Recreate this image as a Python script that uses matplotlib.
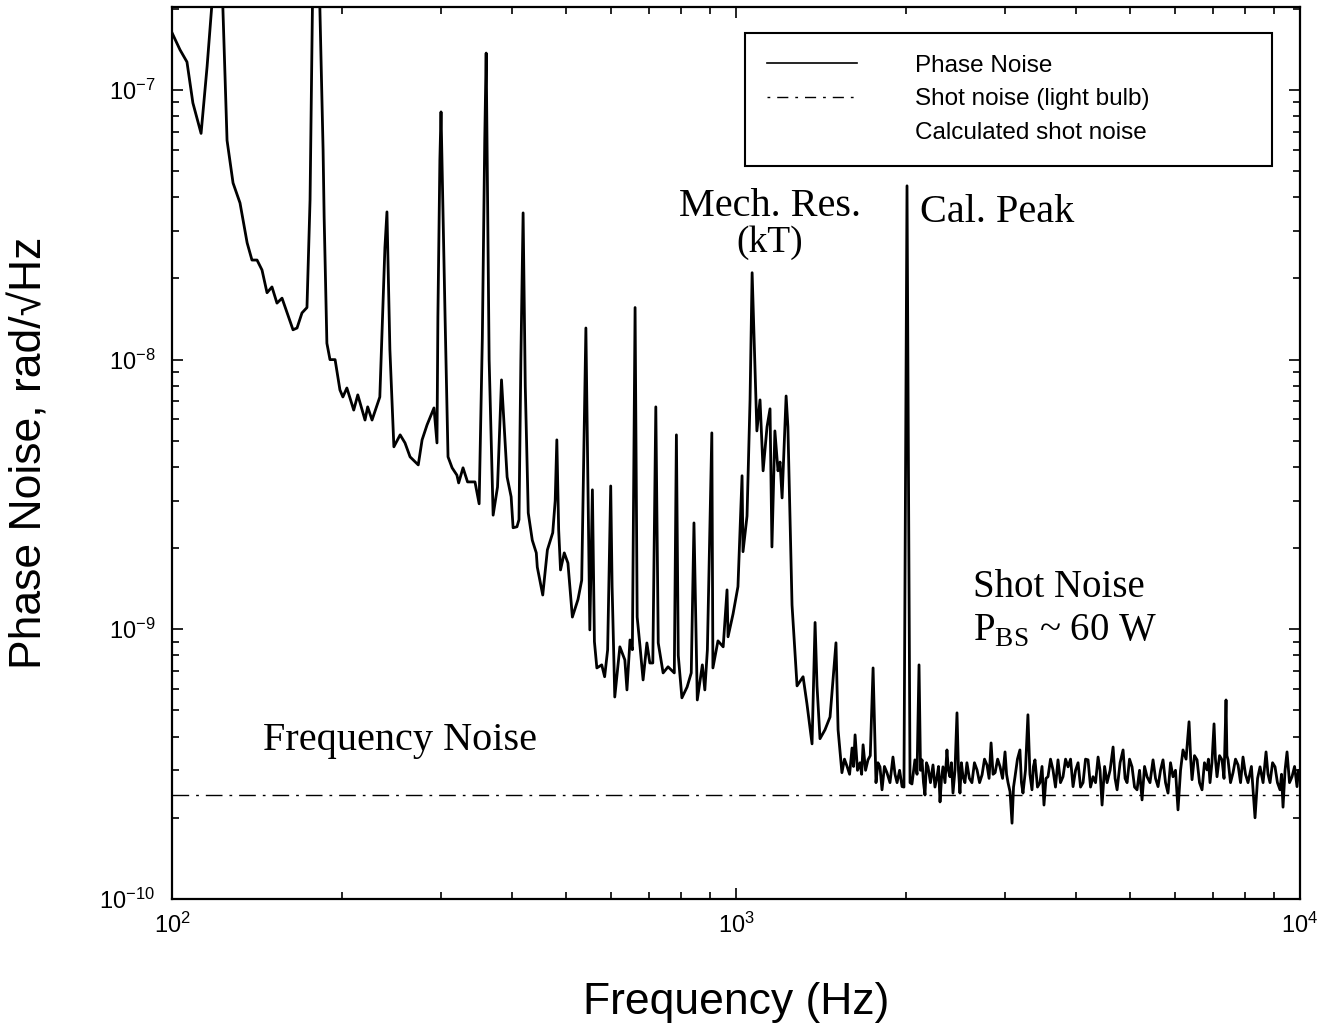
import matplotlib
matplotlib.use("Agg")
import matplotlib.pyplot as plt
from matplotlib.lines import Line2D
from matplotlib.ticker import LogLocator, NullFormatter

# values (Hz, rad/sqrt(Hz))
# part 1: below ~1.5 kHz, the forest of mains harmonics and the mech. resonance
freq_low = [
    100, 103.3, 106.3, 108.9, 112.6, 115.4, 118.5, 120.5, 123.1, 125.2,
    128.3, 132.0, 135.9, 138.6, 141.5, 144.4, 147.4, 150.4, 153.5, 156.7,
    163.9, 166.6, 170.0, 173.5, 175.7, 177.4, 180.0, 182.9, 185.3, 186.1,
    188.2, 190.6, 194.6, 198.5, 200.9, 204.2, 210.0, 213.5, 219.9, 222.3,
    226.3, 233.6, 236.9, 238.5, 240.5, 243.4, 247.4, 253.8, 258.9, 264.3,
    273.3, 277.6, 283.3, 291.4, 295.0, 296.1, 298.5, 299.9, 304.9, 308.6,
    313.8, 320.0, 322.3, 328.1, 334.2, 344.5, 350.4, 355.0, 358.5, 360.6,
    365.0, 371.0, 377.7, 383.9, 392.8, 399.3, 402.5, 408.9, 412.3, 415.5,
    419.3, 423.0, 428.2, 435.3, 442.5, 444.3, 454.3, 463.0, 473.2, 478.0,
    481.2, 484.8, 488.5, 496.0, 503.5, 512.7, 524.6, 532.6, 537.9, 541.8,
    545.0, 550.6, 556.4, 561.0, 566.6, 578.0, 584.9, 592.1, 599.6, 603.0,
    609.6, 622.4, 635.2, 640.7, 648.7, 655.0, 662.3, 668.0, 675.9, 684.3,
    695.0, 703.4, 712.0, 720.8, 728.0, 742.6, 757.7, 777.3, 784.0, 790.0,
    801.8, 819.0, 833.0, 842.3, 853.8, 871.6, 880.5, 889.7, 906.0, 910.0,
    929.0, 949.0, 964.0, 968.0, 988.0, 1008, 1025, 1029, 1046, 1059,
    1068, 1081, 1089, 1103, 1117, 1135, 1149, 1158, 1172, 1187,
    1197, 1207, 1227, 1236, 1257, 1283, 1315, 1336, 1364, 1381,
    1392, 1409, 1438, 1468, 1504, 1517,
]
noise_low = [
    1.63e-7, 1.41e-7, 1.27e-7, 8.95e-8, 6.9e-8, 1.22e-7, 2.5e-7, 6e-7, 2.0e-7, 6.5e-8,
    4.52e-8, 3.81e-8, 2.71e-8, 2.34e-8, 2.34e-8, 2.15e-8, 1.77e-8, 1.86e-8, 1.62e-8, 1.69e-8,
    1.29e-8, 1.31e-8, 1.49e-8, 1.56e-8, 3.91e-8, 2.0e-7, 6e-7, 2.0e-7, 6.0e-8, 3.38e-8,
    1.15e-8, 1.0e-8, 1.0e-8, 7.72e-9, 7.27e-9, 7.85e-9, 6.5e-9, 7.4e-9, 5.97e-9, 6.68e-9,
    5.97e-9, 7.27e-9, 1.71e-8, 2.6e-8, 3.53e-8, 1.09e-8, 4.75e-9, 5.26e-9, 4.91e-9, 4.36e-9,
    4.07e-9, 5.04e-9, 5.73e-9, 6.62e-9, 4.91e-9, 1.44e-8, 5.5e-8, 8.29e-8, 1.44e-8, 4.36e-9,
    3.97e-9, 3.73e-9, 3.49e-9, 3.97e-9, 3.52e-9, 3.52e-9, 2.92e-9, 1.2e-8, 6.5e-8, 1.37e-7,
    1.0e-8, 2.65e-9, 3.37e-9, 8.41e-9, 3.67e-9, 3.10e-9, 2.38e-9, 2.40e-9, 2.55e-9, 1.0e-8,
    3.5e-8, 8.0e-9, 2.7e-9, 2.14e-9, 1.92e-9, 1.70e-9, 1.34e-9, 1.97e-9, 2.28e-9, 3.0e-9,
    5.04e-9, 2.34e-9, 1.66e-9, 1.92e-9, 1.76e-9, 1.11e-9, 1.29e-9, 1.52e-9, 5.35e-9, 1.31e-8,
    5.0e-9, 9.95e-10, 3.29e-9, 9.0e-10, 7.19e-10, 7.38e-10, 6.67e-10, 8.39e-10, 3.4e-9, 1.44e-9,
    5.61e-10, 8.61e-10, 7.7e-10, 5.96e-10, 9.13e-10, 8.4e-10, 1.56e-8, 1.11e-9, 8.61e-10, 6.49e-10,
    8.9e-10, 7.5e-10, 7.5e-10, 6.68e-9, 8.9e-10, 6.89e-10, 7.26e-10, 6.89e-10, 5.26e-9, 8.0e-10,
    5.57e-10, 6.11e-10, 6.89e-10, 2.48e-9, 5.47e-10, 7.38e-10, 5.96e-10, 8.39e-10, 5.35e-9, 7.19e-10,
    9.06e-10, 8.61e-10, 1.40e-9, 9.38e-10, 1.14e-9, 1.44e-9, 3.71e-9, 1.94e-9, 2.63e-9, 7.09e-9,
    2.10e-8, 8.93e-9, 5.44e-9, 7.09e-9, 3.87e-9, 5.63e-9, 6.57e-9, 2.02e-9, 5.44e-9, 3.87e-9,
    4.17e-9, 3.07e-9, 7.33e-9, 5.63e-9, 1.23e-9, 6.17e-10, 6.67e-10, 5.29e-10, 3.76e-10, 1.06e-9,
    6.17e-10, 3.93e-10, 4.24e-10, 4.73e-10, 8.91e-10, 4.24e-10,
]

# part 2: the shot-noise floor above ~1.5 kHz, incl. the 2 kHz calibration line
freq_floor = [
    1541, 1557, 1573, 1590, 1606, 1616, 1626, 1642, 1659, 1670,
    1680, 1697, 1714, 1730, 1750, 1771, 1785, 1800, 1815, 1833,
    1852, 1875, 1898, 1914, 1930, 1950, 1970, 1985, 2010, 2035,
    2051, 2076, 2094, 2111, 2124, 2137, 2150, 2163, 2176, 2190,
    2212, 2235, 2253, 2272, 2286, 2300, 2314, 2328, 2347, 2366,
    2380, 2395, 2410, 2425, 2445, 2465, 2480, 2495, 2510, 2526,
    2546, 2567, 2593, 2620, 2647, 2675, 2703, 2731, 2758, 2786,
    2810, 2833, 2856, 2880, 2910, 2939, 2969, 2999, 3018, 3036,
    3061, 3086, 3105, 3124, 3155, 3187, 3207, 3227, 3260, 3293,
    3320, 3348, 3368, 3389, 3424, 3459, 3488, 3516, 3545, 3574,
    3611, 3648, 3685, 3723, 3761, 3800, 3840, 3879, 3919, 3959,
    4000, 4041, 4082, 4124, 4166, 4209, 4252, 4296, 4340, 4385,
    4420, 4457, 4503, 4549, 4605, 4662, 4700, 4739, 4797, 4856,
    4896, 4936, 4986, 5037, 5089, 5141, 5194, 5247, 5301, 5355,
    5420, 5488, 5544, 5601, 5658, 5716, 5775, 5834, 5894, 5954,
    6015, 6077, 6140, 6202, 6280, 6357, 6400, 6435, 6500, 6568,
    6635, 6703, 6770, 6841, 6880, 6925, 6980, 7040, 7080, 7126,
    7200, 7273, 7333, 7393, 7420, 7454, 7530, 7607, 7685, 7765,
    7845, 7924, 8005, 8087, 8200, 8322, 8410, 8494, 8600, 8705,
    8776, 8848, 8940, 9030, 9120, 9216, 9273, 9330, 9407, 9484,
    9580, 9679, 9780, 9878, 9940, 10000,
]
noise_floor = [
    2.94e-10, 3.3e-10, 3.11e-10, 2.9e-10, 3.63e-10, 3.1e-10, 4.06e-10, 3.0e-10, 3.20e-10, 2.9e-10,
    3.73e-10, 3.0e-10, 3.28e-10, 3.4e-10, 7.19e-10, 2.70e-10, 3.2e-10, 3.09e-10, 2.54e-10, 3.1e-10,
    2.94e-10, 2.7e-10, 3.36e-10, 2.9e-10, 2.70e-10, 3.0e-10, 2.61e-10, 2.6e-10, 4.41e-8, 2.7e-10,
    2.67e-10, 3.28e-10, 2.9e-10, 7.38e-10, 3.0e-10, 3.28e-10, 2.7e-10, 2.43e-10, 3.2e-10, 3.09e-10,
    2.7e-10, 3.14e-10, 2.6e-10, 2.84e-10, 3.1e-10, 2.29e-10, 2.8e-10, 3.09e-10, 2.7e-10, 3.57e-10,
    3.0e-10, 2.84e-10, 3.2e-10, 2.47e-10, 3.0e-10, 4.90e-10, 3.0e-10, 2.47e-10, 3.2e-10, 2.84e-10,
    2.7e-10, 3.20e-10, 2.8e-10, 2.70e-10, 3.2e-10, 3.01e-10, 2.7e-10, 2.89e-10, 3.3e-10, 3.14e-10,
    2.8e-10, 3.79e-10, 2.9e-10, 2.94e-10, 3.3e-10, 3.09e-10, 2.8e-10, 3.51e-10, 2.9e-10, 2.70e-10,
    2.5e-10, 1.91e-10, 2.6e-10, 2.84e-10, 3.3e-10, 3.57e-10, 2.7e-10, 2.47e-10, 3.0e-10, 4.82e-10,
    2.9e-10, 2.54e-10, 3.1e-10, 3.28e-10, 2.6e-10, 2.70e-10, 3.1e-10, 2.23e-10, 2.8e-10, 2.84e-10,
    3.3e-10, 3.01e-10, 2.6e-10, 3.28e-10, 2.7e-10, 2.84e-10, 3.3e-10, 3.09e-10, 3.3e-10, 2.61e-10,
    3.0e-10, 3.20e-10, 2.6e-10, 2.70e-10, 3.3e-10, 3.28e-10, 2.6e-10, 2.84e-10, 2.7e-10, 3.36e-10,
    3.0e-10, 2.23e-10, 3.1e-10, 2.70e-10, 3.0e-10, 3.66e-10, 2.8e-10, 2.54e-10, 3.2e-10, 3.57e-10,
    2.8e-10, 2.70e-10, 3.3e-10, 3.09e-10, 2.6e-10, 2.54e-10, 3.0e-10, 2.33e-10, 3.1e-10, 2.84e-10,
    2.7e-10, 3.28e-10, 2.8e-10, 2.61e-10, 3.0e-10, 3.28e-10, 2.7e-10, 2.47e-10, 3.2e-10, 2.84e-10,
    3.0e-10, 2.14e-10, 3.0e-10, 3.57e-10, 3.3e-10, 4.54e-10, 3.3e-10, 2.77e-10, 3.4e-10, 3.28e-10,
    2.7e-10, 2.54e-10, 3.2e-10, 3.01e-10, 3.3e-10, 2.70e-10, 3.2e-10, 4.46e-10, 3.3e-10, 2.84e-10,
    3.4e-10, 3.28e-10, 2.8e-10, 5.47e-10, 3.4e-10, 3.28e-10, 2.7e-10, 2.94e-10, 3.3e-10, 3.14e-10,
    2.7e-10, 3.36e-10, 2.9e-10, 2.70e-10, 3.1e-10, 2.00e-10, 2.8e-10, 3.09e-10, 2.7e-10, 3.51e-10,
    2.9e-10, 2.70e-10, 3.2e-10, 3.09e-10, 2.7e-10, 2.54e-10, 2.9e-10, 2.19e-10, 3.0e-10, 3.51e-10,
    2.7e-10, 2.84e-10, 3.1e-10, 2.61e-10, 3.0e-10, 2.94e-10,
]

shot_freq = [100, 10000]
shot_level = [2.43e-10, 2.43e-10]

legend_labels = ["Phase Noise", "Shot noise (light bulb)", "Calculated shot noise"]

plt.rcParams['font.family'] = ['Liberation Sans', 'DejaVu Sans']
plt.rcParams['mathtext.fontset'] = 'custom'
plt.rcParams['mathtext.rm'] = 'Liberation Serif'

fig = plt.figure(figsize=(13.17, 10.32), dpi=100)
ax = fig.add_axes([0.1306, 0.1289, 0.8565, 0.8643])

ax.plot(freq_low + freq_floor, noise_low + noise_floor, color='black', lw=2.0)
ax.plot(shot_freq, shot_level, color='black', lw=1.0,
        linestyle=(0, (12, 5, 2, 5)))

ax.set_xscale('log')
ax.set_yscale('log')
ax.set_xlim(100, 10000)
ax.set_ylim(1e-10, 2.03e-7)

ax.xaxis.set_minor_locator(LogLocator(base=10, subs=range(2, 10), numticks=20))
ax.yaxis.set_minor_locator(LogLocator(base=10, subs=range(2, 10), numticks=20))
ax.xaxis.set_minor_formatter(NullFormatter())
ax.yaxis.set_minor_formatter(NullFormatter())

ax.tick_params(which='both', direction='in', top=True, right=True, width=1.2)
ax.tick_params(which='major', length=8, labelsize=17)
ax.tick_params(axis='y', which='major', pad=12)
ax.tick_params(axis='x', which='major', pad=10)
ax.tick_params(which='minor', length=5)
for s in ax.spines.values():
    s.set_linewidth(1.6)

ax.set_xlabel("Frequency (Hz)", fontsize=32)
ax.set_ylabel("Phase Noise, rad/\u221aHz", fontsize=32)
ax.xaxis.set_label_coords(0.5, -0.093)
ax.yaxis.set_label_coords(-0.108, 0.5)

handles = [
    Line2D([], [], color='black', lw=1.2),
    Line2D([], [], color='black', lw=1.0, linestyle=(0, (2, 5, 8, 5))),
    Line2D([], [], linestyle='none'),
]
leg = ax.legend(handles, legend_labels, loc='upper left',
                bbox_to_anchor=(0.508, 0.971, 0.467, 0.0), mode='expand',
                borderaxespad=0, fontsize=17.5, handlelength=3.7,
                handletextpad=2.4, labelspacing=0.47, borderpad=0.9,
                fancybox=False, framealpha=1, edgecolor='black')
leg.get_frame().set_linewidth(1.5)

serif = ['Liberation Serif', 'DejaVu Serif']
ax.text(0.530, 0.776, "Mech. Res.", transform=ax.transAxes, family=serif,
        fontsize=29, ha='center', va='center')
ax.text(0.530, 0.736, "(kT)", transform=ax.transAxes, family=serif,
        fontsize=27, ha='center', va='center')
ax.text(0.663, 0.770, "Cal. Peak", transform=ax.transAxes, family=serif,
        fontsize=29, ha='left', va='center')
ax.text(0.710, 0.349, "Shot Noise", transform=ax.transAxes, family=serif,
        fontsize=28, ha='left', va='center')
ax.text(0.710, 0.300, r"P$_{\mathrm{BS}}$ ~ 60 W", transform=ax.transAxes,
        family=serif, fontsize=28, ha='left', va='center')
ax.text(0.0807, 0.178, "Frequency Noise", transform=ax.transAxes, family=serif,
        fontsize=29, ha='left', va='center')

fig.savefig("out.png", dpi=100)
